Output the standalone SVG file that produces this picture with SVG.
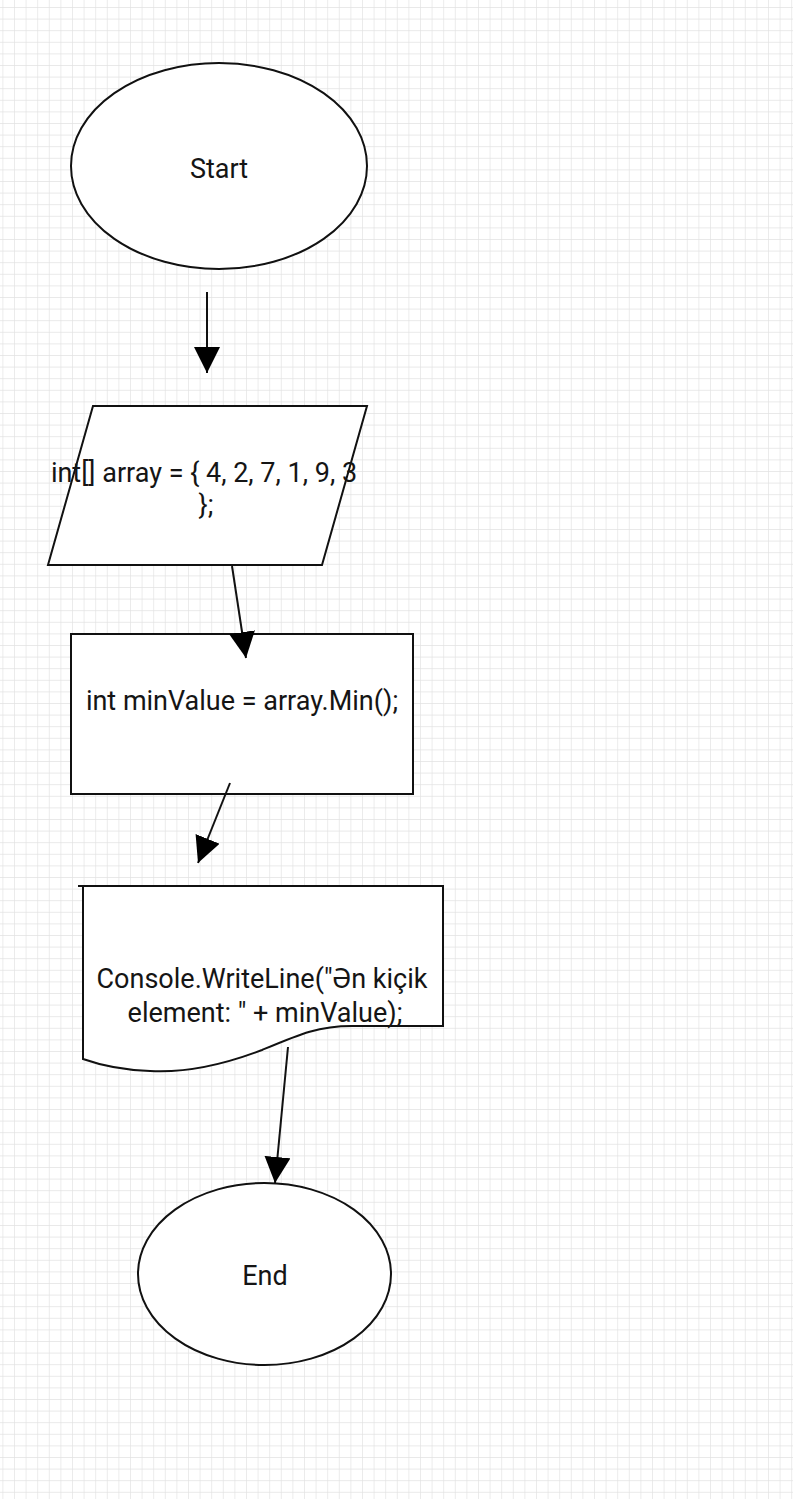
<svg xmlns="http://www.w3.org/2000/svg" width="793" height="1499" viewBox="0 0 793 1499">
  <defs>
    <pattern id="grid" width="11.6" height="11.6" x="2.4" y="7" patternUnits="userSpaceOnUse">
      <path d="M0,0 H11.6 M0,0 V11.6" fill="none" stroke="#e2e2e2" stroke-width="1.3"/>
    </pattern>
    <marker id="arrow" viewBox="0 0 26 26" refX="26" refY="13" markerWidth="26" markerHeight="26" markerUnits="userSpaceOnUse" orient="auto">
      <path d="M0,0 L26,13 L0,26 Z" fill="#000"/>
    </marker>
  </defs>
  <style>
    .shape { fill: #fff; stroke: #111; stroke-width: 2; }
    .conn { fill: none; stroke: #111; stroke-width: 2; marker-end: url(#arrow); }
    .label { font-family: Roboto, "Liberation Sans", sans-serif; font-size: 27px; fill: #151515; text-anchor: middle; }
  </style>
  <rect width="793" height="1499" fill="#fff"/>
  <rect width="793" height="1499" fill="url(#grid)"/>

  <g id="start">
    <ellipse class="shape" cx="219" cy="166" rx="148" ry="103"/>
    <text class="label" x="219" y="178">Start</text>
  </g>

  <g id="input-array">
    <polygon class="shape" points="93,406 367,406 322,565 48,565"/>
    <text class="label" x="204" y="482">int[] array = { 4, 2, 7, 1, 9, 3</text>
    <text class="label" x="206" y="514">};</text>
  </g>

  <g id="process-min">
    <rect class="shape" x="71" y="634" width="342" height="160"/>
    <text class="label" x="242" y="710">int minValue = array.Min();</text>
  </g>

  <g id="output-doc">
    <path class="shape" d="M83,886 H443 V1026 H352 C318,1026 300,1034 262,1050 C220,1066 185,1073 150,1071 C120,1070 100,1065 83,1059 Z"/>
    <path d="M78,886 H83" stroke="#111" stroke-width="2"/>
    <text class="label" x="262" y="988">Console.WriteLine("Ən kiçik</text>
    <text class="label" x="265" y="1022">element: " + minValue);</text>
  </g>

  <g id="end">
    <ellipse class="shape" cx="264.5" cy="1274" rx="126.5" ry="91"/>
    <text class="label" x="265" y="1285">End</text>
  </g>

  <g id="connectors">
    <path class="conn" d="M207,292 L207,373"/>
    <path class="conn" d="M232,566 L246,658"/>
    <path class="conn" d="M230,783 L198,863"/>
    <path class="conn" d="M288,1047 L275,1183"/>
  </g>
</svg>
